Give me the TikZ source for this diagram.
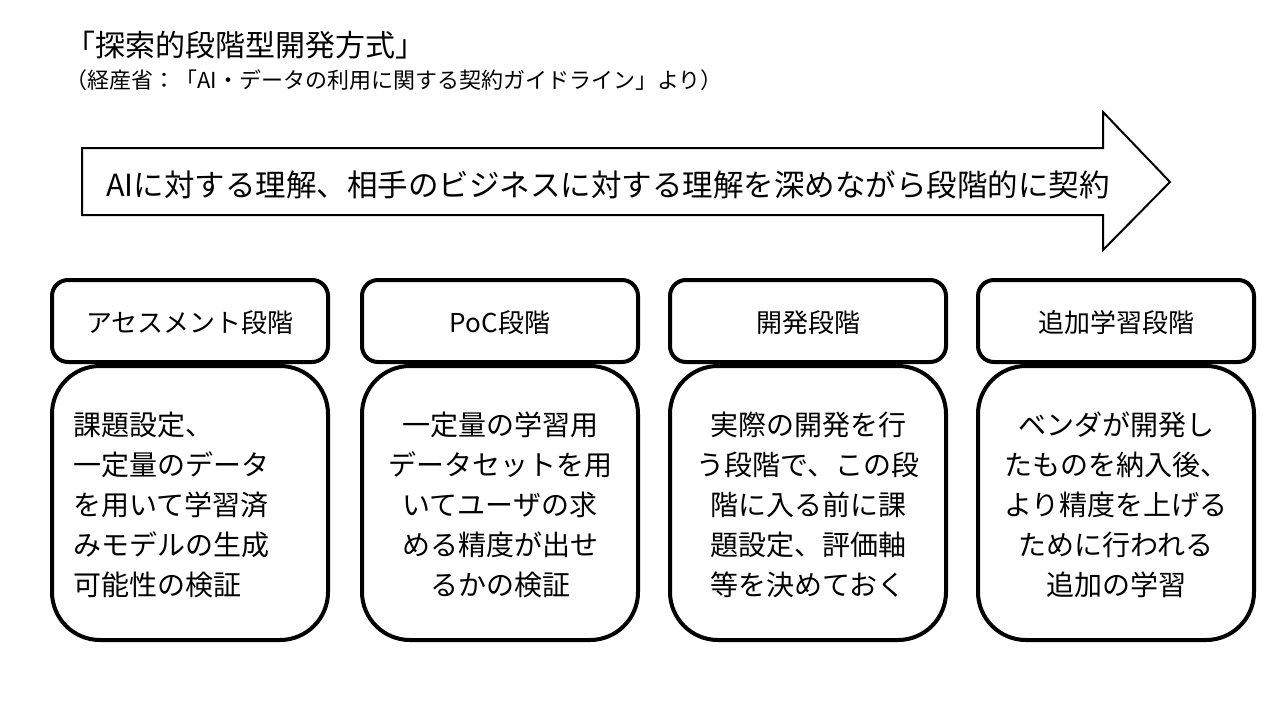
\documentclass[tikz,border=0pt]{standalone}
\usepackage{fontspec}
\setmainfont{Noto Sans CJK JP}
\begin{document}
\begin{tikzpicture}[x=1pt,y=-1pt,
  hb/.style={draw,line width=4pt,rounded corners=16pt},
  bb/.style={draw,line width=4pt,rounded corners=48pt},
  ht/.style={font=\fontsize{26}{30}\selectfont},
  bt/.style={font=\fontsize{28}{40}\selectfont,align=center}]
\useasboundingbox (0,0) rectangle (1280,720);
\node[anchor=west,font=\fontsize{30}{34}\selectfont] (title) at (62,45) {「探索的段階型開発方式」};
\node[anchor=west,font=\fontsize{22}{24}\selectfont] (sub) at (62,80) {（経産省：「AI・データの利用に関する契約ガイドライン」より）};
\draw[line width=2pt] (82,148) -- (1103,148) -- (1103,112) -- (1170,182) -- (1103,250) -- (1103,215) -- (82,215) -- cycle;
\node[font=\fontsize{30.5}{34}\selectfont] (arr) at (608,185) {AIに対する理解、相手のビジネスに対する理解を深めながら段階的に契約};
\foreach \i/\x/\h in {1/52/アセスメント段階,2/362/PoC段階,3/670/開発段階,4/978/追加学習段階}{
  \draw[hb] (\x,280) rectangle ++(276,82);
  \node[ht] (h\i) at (\x+138,323) {\h};
  \draw[bb] (\x,366) rectangle ++(276,274);
}
\node[bt,align=left,anchor=north west] (b1) at (70,408) {課題設定、\\一定量のデータ\\を用いて学習済\\みモデルの生成\\可能性の検証};
\node[bt,anchor=north] (b2) at (500,408) {一定量の学習用\\データセットを用\\いてユーザの求\\める精度が出せ\\るかの検証};
\node[bt,anchor=north] (b3) at (808,408) {実際の開発を行\\う段階で、この段\\階に入る前に課\\題設定、評価軸\\等を決めておく};
\node[bt,anchor=north] (b4) at (1116,408) {ベンダが開発し\\たものを納入後、\\より精度を上げる\\ために行われる\\追加の学習};
\end{tikzpicture}
\end{document}
